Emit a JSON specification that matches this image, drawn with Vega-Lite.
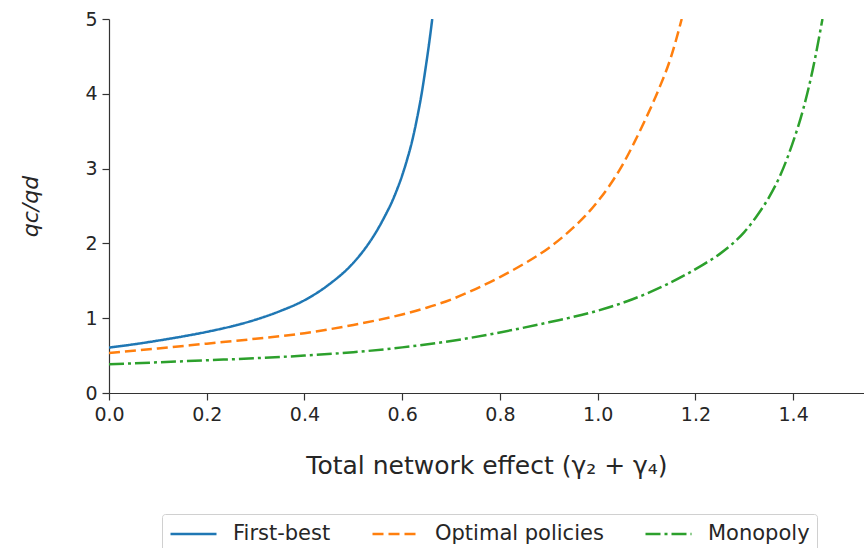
{
  "$schema": "https://vega.github.io/schema/vega-lite/v6.json",
  "width": 755,
  "height": 374,
  "autosize": {"type": "none"},
  "padding": {"left": 109, "top": 19, "right": 0, "bottom": 155},
  "background": "white",
  "config": {
    "view": {"stroke": null},
    "font": "DejaVu Sans",
    "legend": {
      "title": null,
      "orient": "none",
      "legendX": 53,
      "legendY": 495,
      "direction": "horizontal",
      "symbolType": "M-1,0H3",
      "symbolSize": 529,
      "symbolStrokeWidth": 2.5,
      "labelFontSize": 21,
      "labelColor": "#262626",
      "labelOffset": 38,
      "labelLimit": 0,
      "columnPadding": 36,
      "padding": 7,
      "strokeColor": "#d0d0d0",
      "fillColor": "white",
      "cornerRadius": 3
    }
  },
  "data": {
    "values": [
      {"x": 0, "y": 0.607, "s": "First-best"},
      {"x": 0.05, "y": 0.65, "s": "First-best"},
      {"x": 0.1, "y": 0.7, "s": "First-best"},
      {"x": 0.15, "y": 0.755, "s": "First-best"},
      {"x": 0.2, "y": 0.817, "s": "First-best"},
      {"x": 0.25, "y": 0.89, "s": "First-best"},
      {"x": 0.3, "y": 0.98, "s": "First-best"},
      {"x": 0.35, "y": 1.095, "s": "First-best"},
      {"x": 0.4, "y": 1.24, "s": "First-best"},
      {"x": 0.45, "y": 1.45, "s": "First-best"},
      {"x": 0.5, "y": 1.74, "s": "First-best"},
      {"x": 0.525, "y": 1.94, "s": "First-best"},
      {"x": 0.55, "y": 2.19, "s": "First-best"},
      {"x": 0.565, "y": 2.37, "s": "First-best"},
      {"x": 0.58, "y": 2.57, "s": "First-best"},
      {"x": 0.59, "y": 2.73, "s": "First-best"},
      {"x": 0.6, "y": 2.91, "s": "First-best"},
      {"x": 0.61, "y": 3.12, "s": "First-best"},
      {"x": 0.62, "y": 3.36, "s": "First-best"},
      {"x": 0.63, "y": 3.66, "s": "First-best"},
      {"x": 0.64, "y": 4.01, "s": "First-best"},
      {"x": 0.648, "y": 4.35, "s": "First-best"},
      {"x": 0.655, "y": 4.67, "s": "First-best"},
      {"x": 0.6615, "y": 5.0, "s": "First-best"},
      {"x": 0, "y": 0.536, "s": "Optimal policies"},
      {"x": 0.1, "y": 0.595, "s": "Optimal policies"},
      {"x": 0.2, "y": 0.66, "s": "Optimal policies"},
      {"x": 0.3, "y": 0.725, "s": "Optimal policies"},
      {"x": 0.4, "y": 0.8, "s": "Optimal policies"},
      {"x": 0.5, "y": 0.91, "s": "Optimal policies"},
      {"x": 0.55, "y": 0.975, "s": "Optimal policies"},
      {"x": 0.6, "y": 1.05, "s": "Optimal policies"},
      {"x": 0.65, "y": 1.14, "s": "Optimal policies"},
      {"x": 0.7, "y": 1.25, "s": "Optimal policies"},
      {"x": 0.75, "y": 1.39, "s": "Optimal policies"},
      {"x": 0.8, "y": 1.55, "s": "Optimal policies"},
      {"x": 0.85, "y": 1.73, "s": "Optimal policies"},
      {"x": 0.9, "y": 1.94, "s": "Optimal policies"},
      {"x": 0.95, "y": 2.21, "s": "Optimal policies"},
      {"x": 0.975, "y": 2.37, "s": "Optimal policies"},
      {"x": 1.0, "y": 2.56, "s": "Optimal policies"},
      {"x": 1.025, "y": 2.78, "s": "Optimal policies"},
      {"x": 1.05, "y": 3.04, "s": "Optimal policies"},
      {"x": 1.075, "y": 3.35, "s": "Optimal policies"},
      {"x": 1.1, "y": 3.69, "s": "Optimal policies"},
      {"x": 1.125, "y": 4.06, "s": "Optimal policies"},
      {"x": 1.15, "y": 4.49, "s": "Optimal policies"},
      {"x": 1.172, "y": 5.0, "s": "Optimal policies"},
      {"x": 0, "y": 0.384, "s": "Monopoly"},
      {"x": 0.1, "y": 0.41, "s": "Monopoly"},
      {"x": 0.2, "y": 0.4375, "s": "Monopoly"},
      {"x": 0.3, "y": 0.465, "s": "Monopoly"},
      {"x": 0.4, "y": 0.5, "s": "Monopoly"},
      {"x": 0.5, "y": 0.545, "s": "Monopoly"},
      {"x": 0.6, "y": 0.61, "s": "Monopoly"},
      {"x": 0.7, "y": 0.695, "s": "Monopoly"},
      {"x": 0.8, "y": 0.81, "s": "Monopoly"},
      {"x": 0.9, "y": 0.945, "s": "Monopoly"},
      {"x": 1.0, "y": 1.1, "s": "Monopoly"},
      {"x": 1.07, "y": 1.25, "s": "Monopoly"},
      {"x": 1.141, "y": 1.45, "s": "Monopoly"},
      {"x": 1.209, "y": 1.69, "s": "Monopoly"},
      {"x": 1.25, "y": 1.86, "s": "Monopoly"},
      {"x": 1.275, "y": 1.99, "s": "Monopoly"},
      {"x": 1.3, "y": 2.15, "s": "Monopoly"},
      {"x": 1.325, "y": 2.36, "s": "Monopoly"},
      {"x": 1.35, "y": 2.61, "s": "Monopoly"},
      {"x": 1.375, "y": 2.93, "s": "Monopoly"},
      {"x": 1.4, "y": 3.36, "s": "Monopoly"},
      {"x": 1.42, "y": 3.78, "s": "Monopoly"},
      {"x": 1.44, "y": 4.32, "s": "Monopoly"},
      {"x": 1.46, "y": 5.0, "s": "Monopoly"}
    ]
  },
  "mark": {"type": "line", "strokeWidth": 2.5, "interpolate": "monotone", "clip": true},
  "encoding": {
    "x": {
      "field": "x",
      "type": "quantitative",
      "scale": {"domain": [0, 1.545], "nice": false, "zero": false},
      "axis": {
        "values": [0, 0.2, 0.4, 0.6, 0.8, 1.0, 1.2, 1.4],
        "format": ".1f",
        "grid": false,
        "domainColor": "#333",
        "domainWidth": 1.2,
        "tickColor": "#333",
        "tickSize": 7,
        "tickWidth": 1.2,
        "labelFontSize": 19,
        "labelColor": "#262626",
        "labelPadding": 5,
        "labelFlush": false,
        "title": "Total network effect (γ₂ + γ₄)",
        "titleFontSize": 25,
        "titleFontWeight": "normal",
        "titleColor": "#262626",
        "titleBaseline": "alphabetic",
        "titleY": 80
      }
    },
    "y": {
      "field": "y",
      "type": "quantitative",
      "scale": {"domain": [0, 5], "nice": false},
      "axis": {
        "values": [0, 1, 2, 3, 4, 5],
        "grid": false,
        "domainColor": "#333",
        "domainWidth": 1.2,
        "tickColor": "#333",
        "tickSize": 7,
        "tickWidth": 1.2,
        "labelFontSize": 19,
        "labelColor": "#262626",
        "labelPadding": 5,
        "labelFlush": false,
        "title": "qc/qd",
        "titleFontSize": 22,
        "titleFontStyle": "italic",
        "titleFontWeight": "normal",
        "titleColor": "#262626",
        "titleBaseline": "alphabetic",
        "titleX": -72,
        "titleY": 187
      }
    },
    "color": {
      "field": "s",
      "type": "nominal",
      "sort": ["First-best", "Optimal policies", "Monopoly"],
      "scale": {
        "domain": ["First-best", "Optimal policies", "Monopoly"],
        "range": ["#1f77b4", "#ff7f0e", "#2ca02c"]
      },
      "legend": {"title": null}
    },
    "strokeDash": {
      "field": "s",
      "type": "nominal",
      "sort": ["First-best", "Optimal policies", "Monopoly"],
      "scale": {
        "domain": ["First-best", "Optimal policies", "Monopoly"],
        "range": [[1, 0], [11, 5], [15, 4, 3, 4]]
      },
      "legend": {"title": null}
    }
  }
}
